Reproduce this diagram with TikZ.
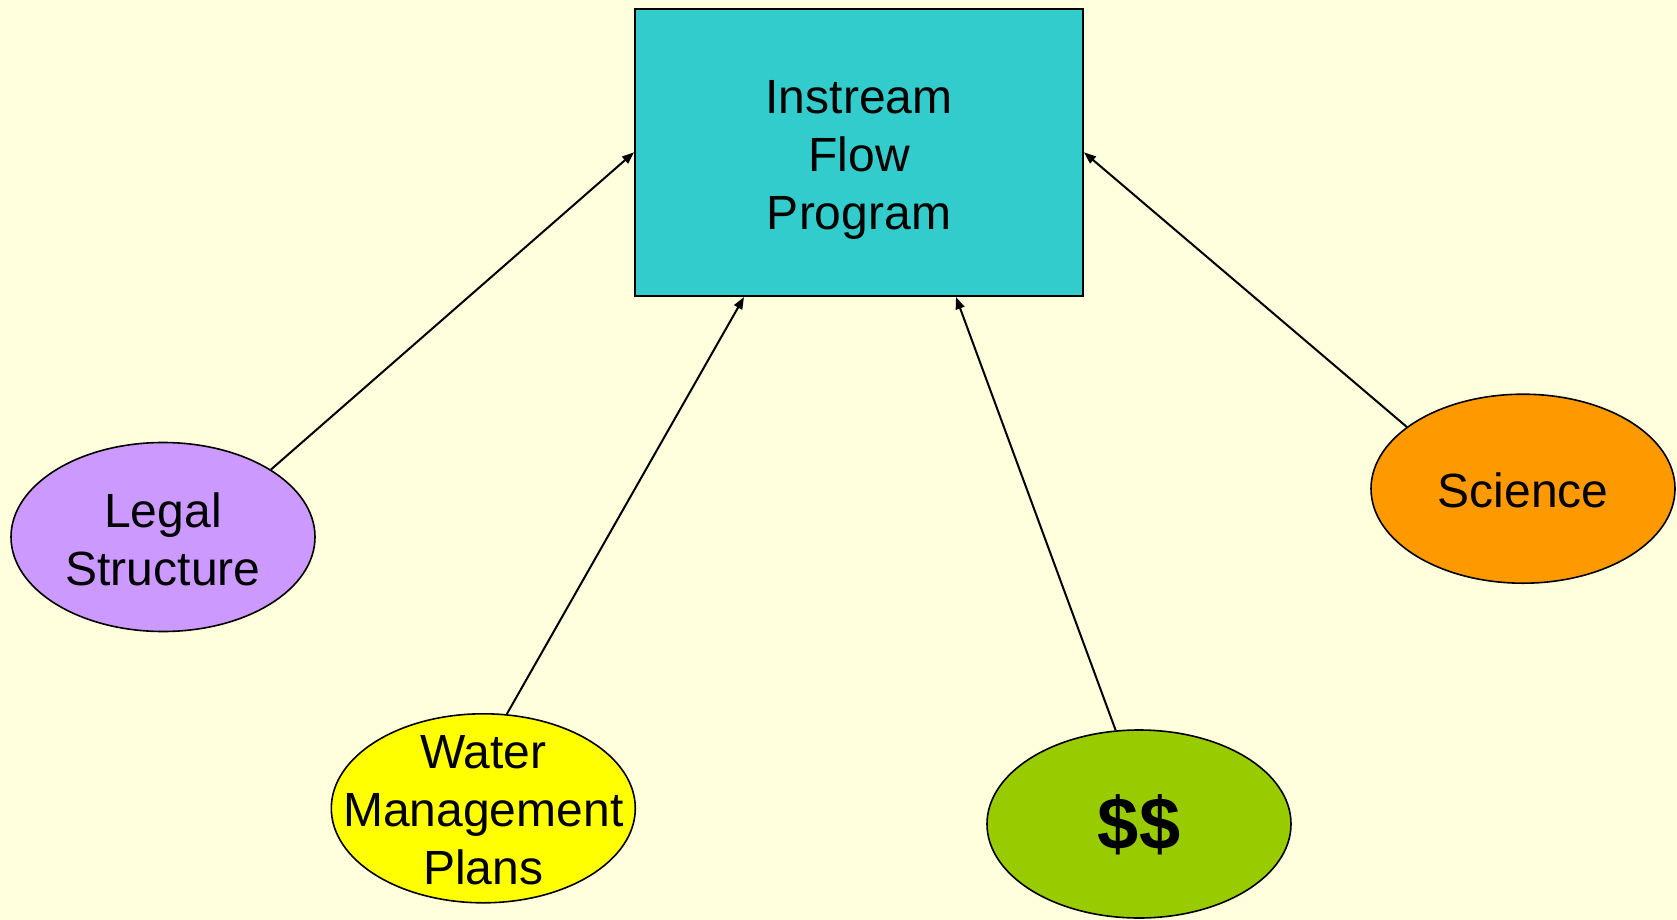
\documentclass[tikz,border=0pt]{standalone}
\usepackage{fontspec}
\setmainfont{Liberation Sans}
\usetikzlibrary{arrows.meta,shapes.geometric}
\definecolor{paper}{HTML}{FFFFDD}
\definecolor{teal}{HTML}{33CCCC}
\definecolor{lilac}{HTML}{CC99FF}
\definecolor{lemon}{HTML}{FFFF00}
\definecolor{lime}{HTML}{99CC00}
\definecolor{amber}{HTML}{FF9900}
\begin{document}
\begin{tikzpicture}[x=1pt,y=-1pt,
  bubble/.style={ellipse, draw=black, line width=1.6pt, inner sep=0pt,
    minimum width=304pt, minimum height=189pt},
  label text/.style={align=center, inner sep=0pt,
    font=\fontsize{48}{58}\selectfont},
  link/.style={line width=2pt, -{Triangle[length=12pt,width=9pt]}}]
  % page background
  \fill[paper] (0,0) rectangle (1677,920);
  \useasboundingbox (0,0) rectangle (1677,920);

  % central program box
  \node[rectangle, draw=black, line width=2pt, fill=teal,
        minimum width=448pt, minimum height=287.5pt, inner sep=0pt] (box) at (859,152.3) {};
  \node[label text] (boxt) at (859,160) {Instream\\Flow\\Program};

  % contributing factors
  \node[bubble, fill=lilac] (legal) at (163,537) {};
  \node[label text] (legalt) at (163,539) {Legal\\Structure};

  \node[bubble, fill=lemon] (water) at (483.3,808.3) {};
  \node[label text] (watert) at (483.3,810) {Water\\Management\\Plans};

  \node[bubble, fill=lime, minimum height=188pt] (money) at (1139,824) {};
  \node[label text, font=\fontsize{74}{80}\selectfont\bfseries] (moneyt) at (1139,825) {\$\$};

  \node[bubble, fill=amber] (sci) at (1523,488.7) {};
  \node[label text] (scit) at (1523,490) {Science};

  % arrows into the program box
  \draw[link] (legal.32) -- (box.west);
  \draw[link] (water.76) -- ([xshift=-115pt]box.south);
  \draw[link] (money.104) -- ([xshift=97pt]box.south);
  \draw[link] (sci.152) -- (box.east);
\end{tikzpicture}
\end{document}
